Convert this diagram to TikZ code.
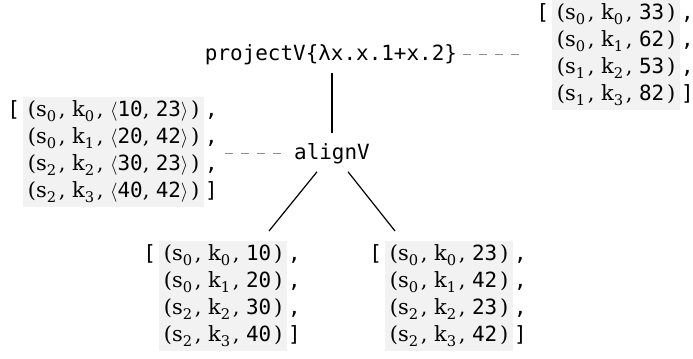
\documentclass[tikz,border=0pt]{standalone}
\usepackage{fontspec}
\setmonofont{DejaVu Sans Mono}
\newfontfamily\tser{DejaVu Serif}
\usetikzlibrary{calc}

\definecolor{boxgray}{HTML}{F2F2F2}
\definecolor{dashgray}{HTML}{8C8C8C}

% text size and line pitch shared by all list nodes
\newcommand\fz{\fontsize{15.7pt}{20.25pt}\selectfont}
% tuple pieces
\newcommand\tsub[1]{\raisebox{-0.22em}{\fontsize{11pt}{11pt}\selectfont #1}}
\newcommand\tnum[1]{{\ttfamily #1}}
\newcommand\tup[3]{\strut{\tser(s\tsub{#1}\hspace{2pt}, k\tsub{#2}\hspace{2pt}, }#3{\tser\hspace{2pt})}}
\newcommand\tpair[2]{$\langle$\tnum{#1}{\tser,} \tnum{#2}$\rangle$}

\begin{document}
\begin{tikzpicture}[x=0.75pt,y=-0.75pt,
  lst/.style={fill=boxgray, inner xsep=3.5pt, inner ysep=0.5pt, align=left,
    anchor=north west, font=\fz},
  pun/.style={inner xsep=0.5pt, inner ysep=0.5pt, align=left, font=\fz\ttfamily,
    anchor=north west},
  opn/.style={inner xsep=2pt, inner ysep=0.5pt, font=\fz\ttfamily, anchor=north east},
  op/.style={font=\fz\ttfamily, inner sep=0pt, anchor=base},
  tree/.style={draw=black, line width=0.9pt},
  dsh/.style={draw=dashgray, line width=1pt, dash pattern=on 6pt off 6pt}]
\useasboundingbox (0,0) rectangle (693,358);

% operators
\node[op] (proj) at (331,60) {projectV\{λx.x.1+x.2\}};
\node[op] (align) at (332,159) {alignV};

% result of projectV
\node[lst] (tr) at (552,0) {\tup{0}{0}{\tnum{33}}\\ \tup{0}{1}{\tnum{62}}\\
  \tup{1}{2}{\tnum{53}}\\ \tup{1}{3}{\tnum{82}}};
\node[opn] (trl) at (tr.north west) {\strut[};
\node[pun] (trr) at (tr.north east) {\strut,\\\strut,\\\strut,\\\strut]};

% result of alignV
\node[lst] (lb) at (23,97) {\tup{0}{0}{\tpair{10}{23}}\\ \tup{0}{1}{\tpair{20}{42}}\\
  \tup{2}{2}{\tpair{30}{23}}\\ \tup{2}{3}{\tpair{40}{42}}};
\node[opn] (lbl) at (lb.north west) {\strut[};
\node[pun] (lbr) at (lb.north east) {\strut,\\\strut,\\\strut,\\\strut]};

% inputs of alignV
\node[lst] (bl) at (159,241) {\tup{0}{0}{\tnum{10}}\\ \tup{0}{1}{\tnum{20}}\\
  \tup{2}{2}{\tnum{30}}\\ \tup{2}{3}{\tnum{40}}};
\node[opn] (bll) at (bl.north west) {\strut[};
\node[pun] (blr) at (bl.north east) {\strut,\\\strut,\\\strut,\\\strut]};

\node[lst] (br) at (385,241) {\tup{0}{0}{\tnum{23}}\\ \tup{0}{1}{\tnum{42}}\\
  \tup{2}{2}{\tnum{23}}\\ \tup{2}{3}{\tnum{42}}};
\node[opn] (brl) at (br.north west) {\strut[};
\node[pun] (brr) at (br.north east) {\strut,\\\strut,\\\strut,\\\strut]};

% tree edges
\draw[tree, shorten <=6pt, shorten >=7.5pt] (align.north |- proj.south) -- (align.north);
\draw[tree] ($(align.south)+(-15,8)$) -- ($(bl.north west)+(110,-10)$);
\draw[tree] ($(align.south)+(16,8)$) -- ($(br.north west)+(10,-10)$);

% values attached to operators
\draw[dsh, shorten <=4pt, shorten >=9pt] (proj.east) -- (proj.east -| trl.west);
\draw[dsh, shorten <=5pt, shorten >=5pt] (align.west -| lbr.east) -- (align.west);
\end{tikzpicture}
\end{document}
